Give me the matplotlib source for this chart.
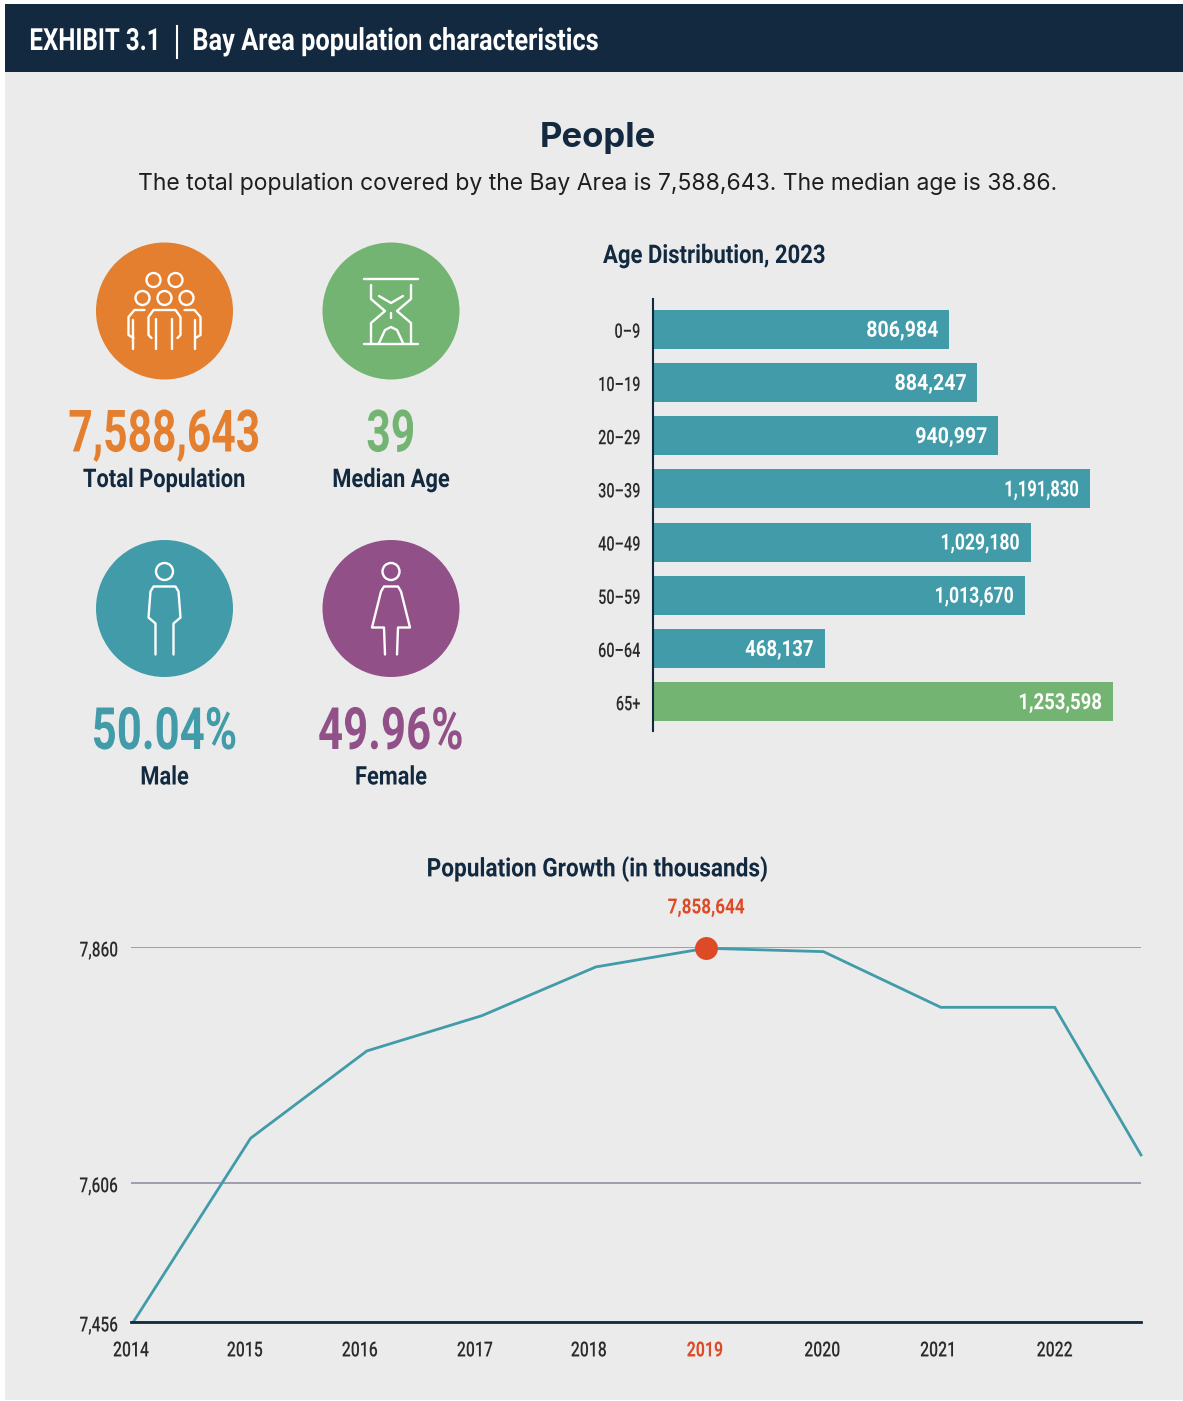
import matplotlib
matplotlib.use('Agg')
import matplotlib.pyplot as plt
from matplotlib.patches import Rectangle, Circle
from matplotlib.patheffects import AbstractPathEffect
from matplotlib.transforms import Affine2D

W = 1183
H = 1401

navy = '#12293F'
orange = '#E37F2E'
green = '#73B473'
teal = '#419BA8'
purple = '#925088'
red = '#DC4B26'
grey = '#EBEBEB'
ink = '#2A2A2A'

NARROW = ['Roboto', 'DejaVu Sans']

# Age distribution
age_groups = ['0\u20139', '10\u201319', '20\u201329', '30\u201339', '40\u201349', '50\u201359', '60\u201364', '65+']
age_counts = [806984, 884247, 940997, 1191830, 1029180, 1013670, 468137, 1253598]
age_colors = [teal, teal, teal, teal, teal, teal, teal, green]

# Population growth, in thousands
growth_x = [2014, 2015.02, 2016.03, 2017.03, 2018.02, 2018.98, 2020.0, 2021.02, 2022.01, 2022.76]
growth_y = [7456, 7654, 7748, 7786, 7838.5, 7858.644, 7855, 7795, 7795, 7636]
peak_x = 2018.98
peak_y = 7858.644
peak_label = '7,858,644'
year_ticks = [2013.98, 2014.97, 2015.97, 2016.97, 2017.96, 2018.97, 2019.99, 2021, 2022.01]
year_labels = ['2014', '2015', '2016', '2017', '2018', '2019', '2020', '2021', '2022']
value_ticks = [7456, 7606, 7860]
value_labels = ['7,456', '7,606', '7,860']

# Headline figures
total_pop = '7,588,643'
median_age = '39'
male_share = '50.04%'
female_share = '49.96%'


class Squeeze(AbstractPathEffect):
    # narrows text horizontally, no condensed face is installed
    def __init__(self, sx, anchor='center', dy=0):
        super().__init__()
        self.sx = sx
        self.anchor = anchor
        self.dy = dy

    def draw_path(self, renderer, gc, tpath, affine, rgbFace=None):
        box = tpath.transformed(affine).get_extents()
        x0 = {'left': box.x0, 'center': (box.x0 + box.x1) / 2, 'right': box.x1}[self.anchor]
        squeeze = Affine2D().translate(-x0, 0).scale(self.sx, 1).translate(x0, self.dy)
        renderer.draw_path(gc, tpath, affine + squeeze, rgbFace)


def axes_px(fig, left, top, right, bottom):
    return fig.add_axes([left / W, 1 - bottom / H, (right - left) / W, (bottom - top) / H])


fig = plt.figure(figsize=(W / 100, H / 100), dpi=100, facecolor='white')

# page layer, measured in pixels from the top left corner
bg = fig.add_axes([0, 0, 1, 1])
bg.set_xlim(0, W)
bg.set_ylim(H, 0)
bg.axis('off')
bg.add_patch(Rectangle((5, 72), W - 5, H - 73, fc=grey, ec='none'))
bg.add_patch(Rectangle((5, 4), W - 5, 68, fc=navy, ec='none'))

bg.text(29, 41, 'EXHIBIT 3.1', color='white', family=NARROW, weight='bold', fontsize=22, va='center',
        path_effects=[Squeeze(0.79, 'left')])
bg.plot([177, 177], [26, 58], color='white', lw=1.5)
bg.text(192, 41, 'Bay Area population characteristics', color='white', family=NARROW, weight='bold',
        fontsize=22, va='center', path_effects=[Squeeze(0.83, 'left')])

bg.text(598, 138, 'People', color=navy, family=['Inter', 'DejaVu Sans'], weight='bold', fontsize=25,
        ha='center', va='center')
bg.text(598, 184, 'The total population covered by the Bay Area is 7,588,643. The median age is 38.86.',
        color='#1E1E1E', family=['Inter', 'DejaVu Sans'], fontsize=16.5, ha='center', va='center')


def stroke(cx, cy, pts):
    bg.plot([cx + p[0] for p in pts], [cy + p[1] for p in pts], color='white', lw=1.7,
            solid_capstyle='round', solid_joinstyle='round')


def ring(cx, cy, r):
    bg.add_patch(Circle((cx, cy), r, fc='none', ec='white', lw=1.7))


def group_icon(cx, cy):
    for hx, hy in [(-11, -31), (11, -31), (-22, -13), (0, -13), (22, -13)]:
        ring(cx + hx, cy + hy, 7)
    stroke(cx, cy, [(-13, 27), (-16, 24), (-16, 6), (-11, -1), (11, -1), (16, 6), (16, 24), (13, 27)])
    stroke(cx, cy, [(-8, 8), (-8, 38)])
    stroke(cx, cy, [(8, 8), (8, 38)])
    for s in [-1, 1]:
        stroke(cx, cy, [(s * 20, -1), (s * 30, -1), (s * 36, 6), (s * 36, 24), (s * 31, 27)])
        stroke(cx, cy, [(s * 31, 9), (s * 31, 38)])


def hourglass_icon(cx, cy):
    stroke(cx, cy, [(-27, -32), (27, -32)])
    stroke(cx, cy, [(-27, 33), (27, 33)])
    stroke(cx, cy, [(-20, -26), (-20, -12), (-6, 0), (-20, 12), (-20, 33)])
    stroke(cx, cy, [(20, -26), (20, -12), (6, 0), (20, 12), (20, 33)])
    stroke(cx, cy, [(-12, -15), (0, -8), (12, -15)])
    stroke(cx, cy, [(0, 2), (0, 7)])
    stroke(cx, cy, [(-12, 32), (-6, 19), (0, 16), (6, 19), (12, 32)])


def male_icon(cx, cy):
    ring(cx, cy - 37, 8.5)
    stroke(cx, cy, [(-9, 46), (-9, 15), (-16, 9), (-14, -17), (-11, -22), (11, -22), (14, -17),
                    (16, 9), (9, 15), (9, 46)])


def female_icon(cx, cy):
    ring(cx, cy - 37, 8.5)
    stroke(cx, cy, [(-6, 46), (-7, 19), (-19, 19), (-10, -17), (-7, -22), (7, -22), (10, -17),
                    (19, 19), (7, 19), (6, 46)])


def stat(cx, cy, color, icon, value, caption, squeeze):
    bg.add_patch(Circle((cx, cy), 68.5, fc=color, ec='none'))
    icon(cx, cy)
    bg.text(cx, cy + 125, value, color=color, family=NARROW, weight='bold', fontsize=42,
            ha='center', va='center', path_effects=[Squeeze(squeeze)])
    bg.text(cx, cy + 169, caption, color=navy, family=NARROW, weight='bold', fontsize=18.5,
            ha='center', va='center', path_effects=[Squeeze(0.85)])


stat(164.5, 311, orange, group_icon, total_pop, 'Total Population', 0.73)
stat(391, 311, green, hourglass_icon, median_age, 'Median Age', 0.73)
stat(164.5, 608.5, teal, male_icon, male_share, 'Male', 0.75)
stat(391, 608.5, purple, female_icon, female_share, 'Female', 0.75)

# age distribution bars
bg.text(603, 256, 'Age Distribution, 2023', color=navy, family=NARROW, weight='bold', fontsize=18.5,
        va='center', path_effects=[Squeeze(0.86, 'left')])

ax = axes_px(fig, 653, 299, 1113, 731)
ax.patch.set_alpha(0)
positions = list(range(len(age_groups)))
ax.barh(positions, age_counts, height=0.735, color=age_colors)
ax.set_xlim(0, max(age_counts))
ax.set_ylim(7.55, -0.57)
ax.set_yticks(positions)
ax.set_yticklabels(age_groups, family=NARROW, fontsize=14.5, color=ink, weight='medium')
for label in ax.get_yticklabels():
    label.set_path_effects([Squeeze(0.72, 'right', -1)])
ax.tick_params(axis='y', length=0, pad=9)
ax.set_xticks([])
for side in ['top', 'right', 'bottom']:
    ax.spines[side].set_visible(False)
ax.spines['left'].set_color(navy)
ax.spines['left'].set_linewidth(1.5)
for pos, count in zip(positions, age_counts):
    # the 1s in this typeface are narrow, so labels with more of them run shorter
    fit = 0.88 - 0.045 * f'{count}'.count('1')
    ax.annotate(f'{count:,}', (count, pos), xytext=(-8, -1), textcoords='offset points', ha='right',
                va='center', color='white', family=NARROW, weight='bold', fontsize=16,
                path_effects=[Squeeze(fit, 'right')])

# population growth line
bg.text(598, 869, 'Population Growth (in thousands)', color=navy, family=NARROW, weight='bold',
        fontsize=18.5, ha='center', va='center', path_effects=[Squeeze(0.88)])

lx = axes_px(fig, 131, 947, 1141, 1322)
lx.patch.set_alpha(0)
lx.set_xlim(2014, 2022.76)
lx.set_ylim(7456, 7860)
lx.grid(axis='y', color='#8F90A5', lw=1.2)
lx.set_axisbelow(True)
lx.plot(growth_x, growth_y, color=teal, lw=2, clip_on=False, solid_joinstyle='miter')
lx.plot([peak_x], [peak_y], 'o', color=red, ms=16.5, mec='none', clip_on=False, zorder=5)
lx.annotate(peak_label, (peak_x, peak_y), xytext=(0, 29), textcoords='offset points', ha='center',
            va='center', color=red, family=NARROW, weight='bold', fontsize=15,
            path_effects=[Squeeze(0.82)])
lx.set_yticks(value_ticks)
lx.set_yticklabels(value_labels, family=NARROW, fontsize=15, color=ink, weight='medium')
for label in lx.get_yticklabels():
    label.set_path_effects([Squeeze(0.74, 'right', -2)])
lx.set_xticks(year_ticks)
lx.set_xticklabels(year_labels, family=NARROW, fontsize=15, color=ink, weight='medium')
for label in lx.get_xticklabels():
    label.set_path_effects([Squeeze(0.76)])
lx.get_xticklabels()[5].set_color(red)
lx.get_xticklabels()[5].set_fontweight('bold')
lx.tick_params(length=0)
lx.tick_params(axis='y', pad=9)
lx.tick_params(axis='x', pad=14)
for side in ['top', 'right', 'left']:
    lx.spines[side].set_visible(False)
lx.spines['bottom'].set_color(navy)
lx.spines['bottom'].set_linewidth(2)

fig.savefig('out.png', dpi=100, facecolor='white')
